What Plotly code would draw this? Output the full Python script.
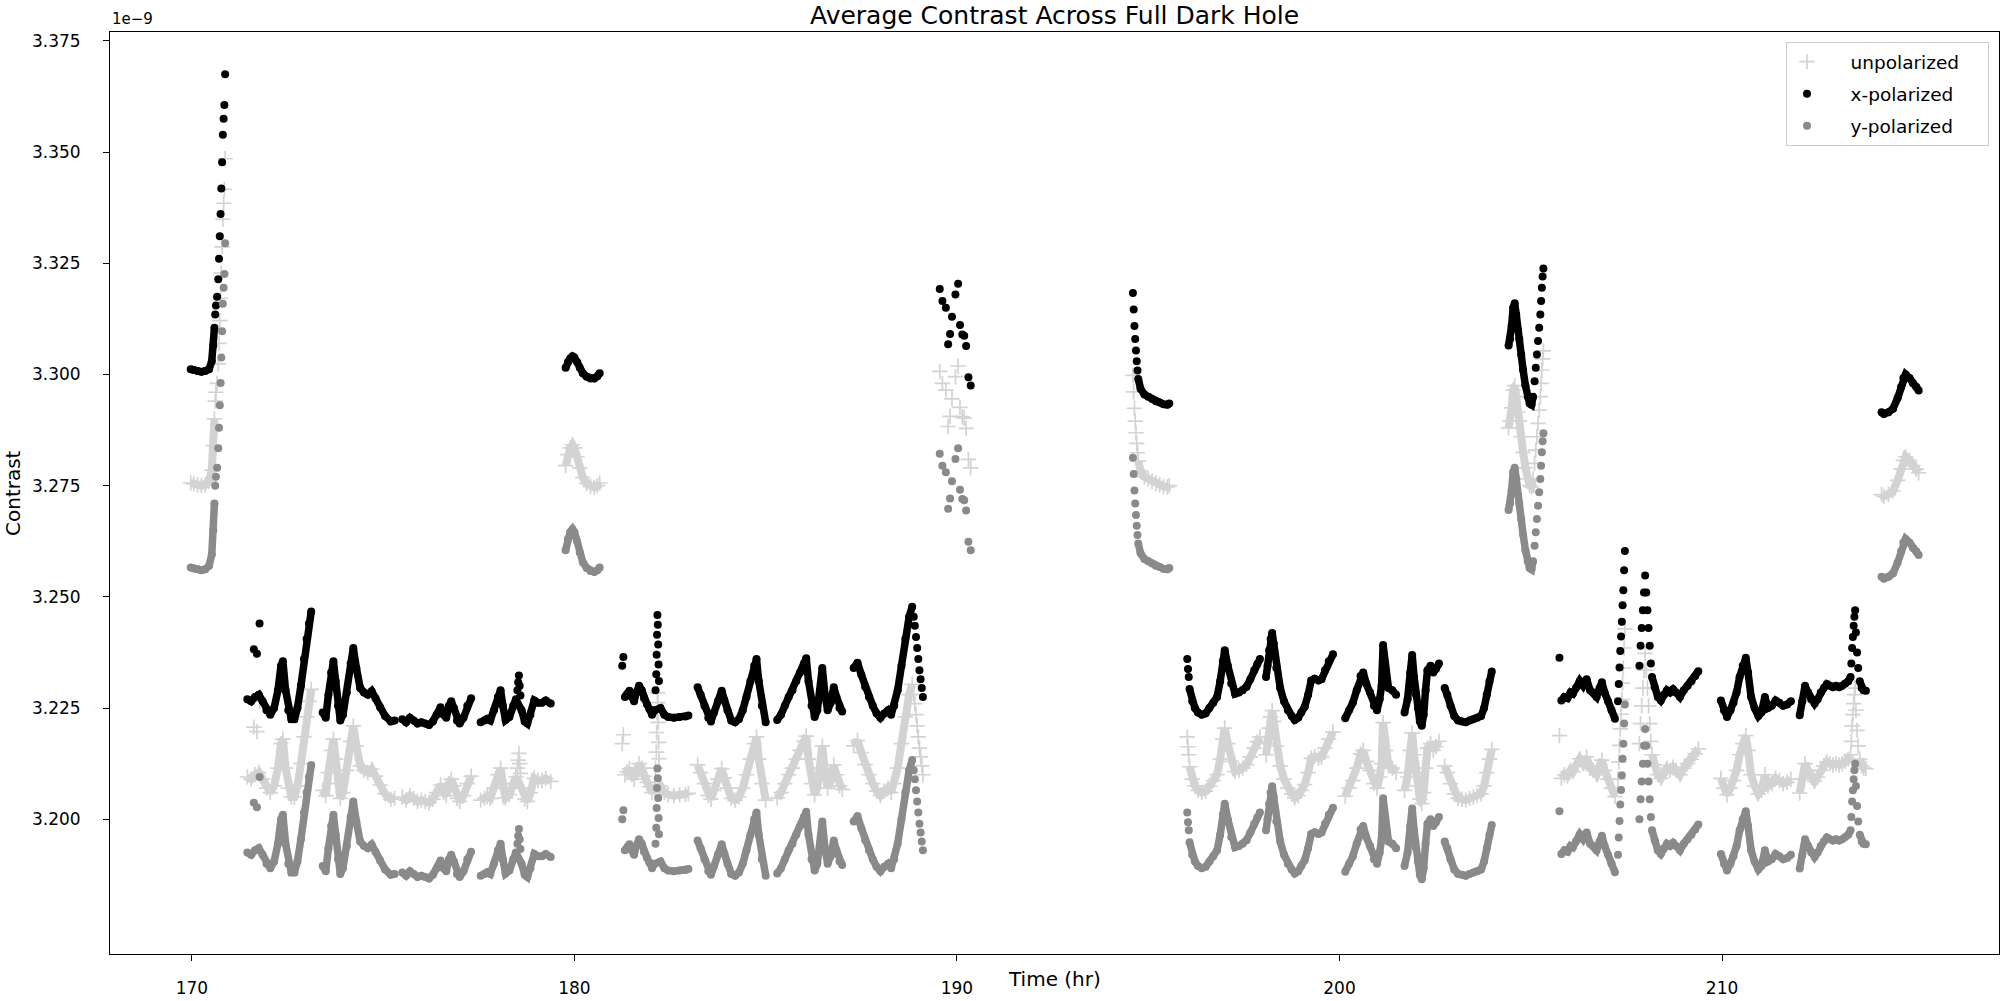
import plotly.graph_objects as go

# contrast values are in units of 1e-9, time in hours
# dense runs of samples (drawn as connected bands)
SEG_T = [
    [169.97, 170.05, 170.15, 170.25, 170.35, 170.45, 170.52, 170.56, 170.59],
    [171.45, 171.55, 171.65, 171.75, 171.85, 171.95, 172.05, 172.15, 172.25, 172.33, 172.38, 172.45, 172.52, 172.6, 172.68, 172.76, 172.85, 172.93, 173.0, 173.06, 173.12],
    [173.42, 173.5, 173.57, 173.64, 173.7, 173.76, 173.82, 173.88, 173.95, 174.05, 174.15, 174.22, 174.3, 174.4, 174.5, 174.6, 174.7, 174.8, 174.92, 175.05, 175.2, 175.3],
    [175.5, 175.6, 175.7, 175.8, 175.9, 176.0, 176.1, 176.2, 176.3, 176.4, 176.5, 176.58, 176.65, 176.72, 176.78, 176.85, 176.93, 177.0, 177.1, 177.2, 177.3],
    [177.55, 177.65, 177.72, 177.8, 177.9, 178.0, 178.07, 178.13, 178.2, 178.3, 178.4, 178.47, 178.62, 178.7, 178.77, 178.85, 178.95, 179.05, 179.15, 179.25, 179.38],
    [179.77, 179.83, 179.89, 179.95, 180.0, 180.07, 180.14, 180.22, 180.32, 180.42, 180.52, 180.6, 180.66],
    [181.32, 181.38, 181.44, 181.5, 181.56, 181.62, 181.69, 181.76, 181.82, 181.9, 181.96, 182.03, 182.1, 182.25, 182.35, 182.45, 182.6, 182.75, 182.9, 182.98],
    [183.22, 183.3, 183.4, 183.5, 183.57, 183.65, 183.75, 183.85, 183.92, 184.0, 184.1, 184.2, 184.3, 184.4, 184.5, 184.6, 184.7, 184.76, 184.82, 184.9, 185.0],
    [185.3, 185.4, 185.5, 185.6, 185.7, 185.8, 185.9, 186.0, 186.06, 186.12, 186.2, 186.28, 186.35, 186.42, 186.48, 186.55, 186.62, 186.7, 186.78, 186.85, 186.93, 187.0],
    [187.3, 187.4, 187.5, 187.6, 187.7, 187.8, 187.9, 188.0, 188.1, 188.2, 188.28, 188.36, 188.45, 188.55, 188.65, 188.75, 188.83],
    [194.74, 194.8, 194.9, 195.0, 195.1, 195.2, 195.3, 195.4, 195.5, 195.55],
    [196.08, 196.15, 196.22, 196.3, 196.4, 196.5, 196.6, 196.7, 196.8, 196.88, 196.95, 197.0, 197.08, 197.17, 197.27, 197.37, 197.47, 197.57, 197.67, 197.77, 197.85, 197.92],
    [198.08, 198.12, 198.16, 198.2, 198.24, 198.28, 198.35, 198.45, 198.55, 198.65, 198.75, 198.83, 198.92, 199.0, 199.09, 199.18, 199.26, 199.35, 199.45, 199.53, 199.62, 199.72, 199.83],
    [200.15, 200.25, 200.35, 200.45, 200.55, 200.62, 200.7, 200.8, 200.9, 200.98, 201.05, 201.1, 201.14, 201.2, 201.28, 201.38, 201.48],
    [201.7, 201.78, 201.85, 201.9, 201.95, 202.0, 202.05, 202.1, 202.15, 202.2, 202.25, 202.3, 202.38, 202.45, 202.52, 202.6],
    [202.75, 202.82, 202.9, 203.0, 203.1, 203.2, 203.3, 203.4, 203.5, 203.6, 203.7, 203.78, 203.85, 203.92, 203.98],
    [204.42, 204.46, 204.5, 204.54, 204.58, 204.62, 204.66, 204.7, 204.75, 204.8, 204.86, 204.92, 204.97, 205.02, 205.06],
    [205.8, 205.88, 205.96, 206.04, 206.1, 206.18, 206.28, 206.37, 206.46, 206.55, 206.63, 206.72, 206.8, 206.86, 206.93, 207.02, 207.11, 207.2],
    [208.17, 208.24, 208.32, 208.4, 208.48, 208.56, 208.64, 208.72, 208.8, 208.9, 209.0, 209.1, 209.2, 209.3, 209.38],
    [209.97, 210.05, 210.13, 210.22, 210.3, 210.38, 210.46, 210.54, 210.62, 210.68, 210.76, 210.85, 210.95, 211.03, 211.12, 211.2, 211.3, 211.4, 211.5, 211.6, 211.7, 211.8],
    [212.03, 212.1, 212.17, 212.25, 212.33, 212.42, 212.5, 212.58, 212.66, 212.74, 212.82, 212.9, 212.98, 213.06, 213.14, 213.22, 213.3, 213.36],
    [213.6, 213.65, 213.7, 213.76],
    [214.17, 214.23, 214.35, 214.47, 214.59, 214.68, 214.74, 214.8, 214.9, 214.99, 215.08, 215.14],
]

SEG_X = [
    [3.3012, 3.3010, 3.3008, 3.3006, 3.3008, 3.3012, 3.3030, 3.3065, 3.3105],
    [3.2270, 3.2265, 3.2275, 3.2280, 3.2265, 3.2245, 3.2235, 3.2250, 3.2290, 3.2345, 3.2355, 3.2290, 3.2245, 3.2225, 3.2225, 3.2250, 3.2300, 3.2360, 3.2405, 3.2440, 3.2467],
    [3.2240, 3.2228, 3.2280, 3.2330, 3.2355, 3.2310, 3.2255, 3.2222, 3.2235, 3.2285, 3.2350, 3.2385, 3.2340, 3.2295, 3.2285, 3.2280, 3.2288, 3.2272, 3.2252, 3.2232, 3.2220, 3.2222],
    [3.2225, 3.2218, 3.2228, 3.2222, 3.2215, 3.2218, 3.2215, 3.2212, 3.2220, 3.2235, 3.2252, 3.2235, 3.2228, 3.2255, 3.2265, 3.2250, 3.2222, 3.2215, 3.2228, 3.2255, 3.2272],
    [3.2218, 3.2222, 3.2226, 3.2222, 3.2245, 3.2275, 3.2290, 3.2255, 3.2223, 3.2230, 3.2255, 3.2270, 3.2245, 3.2220, 3.2215, 3.2235, 3.2267, 3.2262, 3.2262, 3.2267, 3.2260],
    [3.3015, 3.3028, 3.3036, 3.3041, 3.3038, 3.3028, 3.3015, 3.3003, 3.2995, 3.2991, 3.2991, 3.2996, 3.3003],
    [3.2275, 3.2282, 3.2289, 3.2275, 3.2265, 3.2285, 3.2300, 3.2290, 3.2272, 3.2258, 3.2248, 3.2235, 3.2245, 3.2250, 3.2235, 3.2230, 3.2228, 3.2230, 3.2231, 3.2233],
    [3.2297, 3.2280, 3.2255, 3.2228, 3.2220, 3.2240, 3.2265, 3.2289, 3.2268, 3.2245, 3.2222, 3.2218, 3.2225, 3.2245, 3.2275, 3.2310, 3.2345, 3.2360, 3.2310, 3.2255, 3.2218],
    [3.2223, 3.2235, 3.2255, 3.2275, 3.2290, 3.2310, 3.2330, 3.2350, 3.2362, 3.2310, 3.2255, 3.2230, 3.2245, 3.2290, 3.2340, 3.2280, 3.2245, 3.2262, 3.2297, 3.2275, 3.2250, 3.2242],
    [3.2340, 3.2352, 3.2325, 3.2298, 3.2275, 3.2255, 3.2238, 3.2228, 3.2238, 3.2245, 3.2235, 3.2255, 3.2290, 3.2345, 3.2405, 3.2455, 3.2478],
    [3.2990, 3.2968, 3.2955, 3.2950, 3.2945, 3.2940, 3.2937, 3.2933, 3.2932, 3.2935],
    [3.2293, 3.2265, 3.2250, 3.2240, 3.2235, 3.2238, 3.2250, 3.2262, 3.2275, 3.2310, 3.2355, 3.2380, 3.2345, 3.2305, 3.2282, 3.2285, 3.2290, 3.2298, 3.2315, 3.2335, 3.2349, 3.2360],
    [3.2320, 3.2345, 3.2380, 3.2405, 3.2419, 3.2395, 3.2340, 3.2295, 3.2265, 3.2245, 3.2232, 3.2223, 3.2228, 3.2240, 3.2253, 3.2280, 3.2312, 3.2316, 3.2312, 3.2315, 3.2335, 3.2355, 3.2371],
    [3.2227, 3.2245, 3.2262, 3.2290, 3.2322, 3.2330, 3.2305, 3.2285, 3.2255, 3.2245, 3.2270, 3.2300, 3.2392, 3.2330, 3.2295, 3.2290, 3.2280],
    [3.2240, 3.2270, 3.2330, 3.2369, 3.2320, 3.2280, 3.2250, 3.2220, 3.2210, 3.2235, 3.2290, 3.2335, 3.2345, 3.2330, 3.2338, 3.2350],
    [3.2295, 3.2280, 3.2255, 3.2232, 3.2222, 3.2220, 3.2218, 3.2222, 3.2225, 3.2228, 3.2232, 3.2250, 3.2280, 3.2310, 3.2332],
    [3.3065, 3.3080, 3.3110, 3.3150, 3.3160, 3.3135, 3.3100, 3.3080, 3.3045, 3.3010, 3.2975, 3.2950, 3.2935, 3.2932, 3.2950],
    [3.2267, 3.2275, 3.2272, 3.2285, 3.2282, 3.2295, 3.2311, 3.2300, 3.2315, 3.2290, 3.2285, 3.2275, 3.2295, 3.2308, 3.2285, 3.2265, 3.2245, 3.2226],
    [3.2320, 3.2297, 3.2275, 3.2267, 3.2280, 3.2290, 3.2285, 3.2292, 3.2285, 3.2275, 3.2290, 3.2300, 3.2310, 3.2322, 3.2333],
    [3.2267, 3.2245, 3.2230, 3.2245, 3.2262, 3.2285, 3.2320, 3.2345, 3.2363, 3.2330, 3.2275, 3.2250, 3.2232, 3.2240, 3.2275, 3.2250, 3.2255, 3.2267, 3.2262, 3.2255, 3.2258, 3.2265],
    [3.2234, 3.2265, 3.2300, 3.2285, 3.2270, 3.2260, 3.2270, 3.2285, 3.2295, 3.2304, 3.2300, 3.2297, 3.2300, 3.2297, 3.2300, 3.2305, 3.2310, 3.2320],
    [3.2310, 3.2295, 3.2290, 3.2289],
    [3.2915, 3.2911, 3.2915, 3.2923, 3.2947, 3.2972, 3.2992, 3.3000, 3.2992, 3.2980, 3.2972, 3.2964],
]

SEG_U = [
    [3.2756, 3.2754, 3.2752, 3.2750, 3.2752, 3.2760, 3.2785, 3.2840, 3.2900],
    [3.2095, 3.2090, 3.2100, 3.2105, 3.2090, 3.2070, 3.2060, 3.2075, 3.2115, 3.2170, 3.2180, 3.2115, 3.2070, 3.2050, 3.2050, 3.2075, 3.2125, 3.2185, 3.2230, 3.2265, 3.2292],
    [3.2065, 3.2053, 3.2105, 3.2155, 3.2180, 3.2135, 3.2080, 3.2047, 3.2060, 3.2110, 3.2175, 3.2210, 3.2165, 3.2120, 3.2110, 3.2105, 3.2113, 3.2097, 3.2077, 3.2057, 3.2045, 3.2047],
    [3.2050, 3.2043, 3.2053, 3.2047, 3.2040, 3.2043, 3.2040, 3.2037, 3.2045, 3.2060, 3.2077, 3.2060, 3.2053, 3.2080, 3.2090, 3.2075, 3.2047, 3.2040, 3.2053, 3.2080, 3.2097],
    [3.2043, 3.2047, 3.2051, 3.2047, 3.2070, 3.2100, 3.2115, 3.2080, 3.2048, 3.2055, 3.2080, 3.2095, 3.2070, 3.2045, 3.2040, 3.2060, 3.2092, 3.2087, 3.2087, 3.2092, 3.2085],
    [3.2795, 3.2820, 3.2835, 3.2842, 3.2835, 3.2815, 3.2790, 3.2768, 3.2755, 3.2748, 3.2746, 3.2750, 3.2756],
    [3.2100, 3.2107, 3.2114, 3.2100, 3.2090, 3.2110, 3.2125, 3.2115, 3.2097, 3.2083, 3.2073, 3.2060, 3.2070, 3.2075, 3.2060, 3.2055, 3.2053, 3.2055, 3.2056, 3.2058],
    [3.2122, 3.2105, 3.2080, 3.2053, 3.2045, 3.2065, 3.2090, 3.2114, 3.2093, 3.2070, 3.2047, 3.2043, 3.2050, 3.2070, 3.2100, 3.2135, 3.2170, 3.2185, 3.2135, 3.2080, 3.2043],
    [3.2048, 3.2060, 3.2080, 3.2100, 3.2115, 3.2135, 3.2155, 3.2175, 3.2187, 3.2135, 3.2080, 3.2055, 3.2070, 3.2115, 3.2165, 3.2105, 3.2070, 3.2087, 3.2122, 3.2100, 3.2075, 3.2067],
    [3.2165, 3.2177, 3.2150, 3.2123, 3.2100, 3.2080, 3.2063, 3.2053, 3.2063, 3.2070, 3.2060, 3.2080, 3.2115, 3.2170, 3.2230, 3.2280, 3.2303],
    [3.2805, 3.2783, 3.2770, 3.2765, 3.2760, 3.2755, 3.2752, 3.2748, 3.2747, 3.2750],
    [3.2118, 3.2090, 3.2075, 3.2065, 3.2060, 3.2063, 3.2075, 3.2087, 3.2100, 3.2135, 3.2180, 3.2205, 3.2170, 3.2130, 3.2107, 3.2110, 3.2115, 3.2123, 3.2140, 3.2160, 3.2174, 3.2185],
    [3.2145, 3.2170, 3.2205, 3.2230, 3.2244, 3.2220, 3.2165, 3.2120, 3.2090, 3.2070, 3.2057, 3.2048, 3.2053, 3.2065, 3.2078, 3.2105, 3.2137, 3.2141, 3.2137, 3.2140, 3.2160, 3.2180, 3.2196],
    [3.2052, 3.2070, 3.2087, 3.2115, 3.2147, 3.2155, 3.2130, 3.2110, 3.2080, 3.2070, 3.2095, 3.2125, 3.2217, 3.2155, 3.2120, 3.2115, 3.2105],
    [3.2065, 3.2095, 3.2155, 3.2194, 3.2145, 3.2105, 3.2075, 3.2045, 3.2035, 3.2060, 3.2115, 3.2160, 3.2170, 3.2155, 3.2163, 3.2175],
    [3.2120, 3.2105, 3.2080, 3.2057, 3.2047, 3.2045, 3.2043, 3.2047, 3.2050, 3.2053, 3.2057, 3.2075, 3.2105, 3.2135, 3.2157],
    [3.2880, 3.2895, 3.2925, 3.2965, 3.2975, 3.2950, 3.2915, 3.2895, 3.2860, 3.2825, 3.2790, 3.2765, 3.2750, 3.2747, 3.2765],
    [3.2092, 3.2100, 3.2097, 3.2110, 3.2107, 3.2120, 3.2136, 3.2125, 3.2140, 3.2115, 3.2110, 3.2100, 3.2120, 3.2133, 3.2110, 3.2090, 3.2070, 3.2051],
    [3.2145, 3.2122, 3.2100, 3.2092, 3.2105, 3.2115, 3.2110, 3.2117, 3.2110, 3.2100, 3.2115, 3.2125, 3.2135, 3.2147, 3.2158],
    [3.2092, 3.2070, 3.2055, 3.2070, 3.2087, 3.2110, 3.2145, 3.2170, 3.2188, 3.2155, 3.2100, 3.2075, 3.2057, 3.2065, 3.2100, 3.2075, 3.2080, 3.2092, 3.2087, 3.2080, 3.2083, 3.2090],
    [3.2059, 3.2090, 3.2125, 3.2110, 3.2095, 3.2085, 3.2095, 3.2110, 3.2120, 3.2129, 3.2125, 3.2122, 3.2125, 3.2122, 3.2125, 3.2130, 3.2135, 3.2145],
    [3.2135, 3.2120, 3.2115, 3.2114],
    [3.2730, 3.2726, 3.2730, 3.2738, 3.2762, 3.2787, 3.2807, 3.2815, 3.2807, 3.2795, 3.2787, 3.2779],
]

SEG_Y = [
    [3.2566, 3.2564, 3.2562, 3.2560, 3.2562, 3.2570, 3.2595, 3.2650, 3.2710],
    [3.1925, 3.1920, 3.1930, 3.1935, 3.1920, 3.1900, 3.1890, 3.1905, 3.1945, 3.2000, 3.2010, 3.1945, 3.1900, 3.1880, 3.1880, 3.1905, 3.1955, 3.2015, 3.2060, 3.2095, 3.2122],
    [3.1895, 3.1883, 3.1935, 3.1985, 3.2010, 3.1965, 3.1910, 3.1877, 3.1890, 3.1940, 3.2005, 3.2040, 3.1995, 3.1950, 3.1940, 3.1935, 3.1943, 3.1927, 3.1907, 3.1887, 3.1875, 3.1877],
    [3.1880, 3.1873, 3.1883, 3.1877, 3.1870, 3.1873, 3.1870, 3.1867, 3.1875, 3.1890, 3.1907, 3.1890, 3.1883, 3.1910, 3.1920, 3.1905, 3.1877, 3.1870, 3.1883, 3.1910, 3.1927],
    [3.1873, 3.1877, 3.1881, 3.1877, 3.1900, 3.1930, 3.1945, 3.1910, 3.1878, 3.1885, 3.1910, 3.1925, 3.1900, 3.1875, 3.1870, 3.1890, 3.1922, 3.1917, 3.1917, 3.1922, 3.1915],
    [3.2605, 3.2630, 3.2645, 3.2652, 3.2645, 3.2625, 3.2600, 3.2578, 3.2565, 3.2558, 3.2556, 3.2560, 3.2566],
    [3.1930, 3.1937, 3.1944, 3.1930, 3.1920, 3.1940, 3.1955, 3.1945, 3.1927, 3.1913, 3.1903, 3.1890, 3.1900, 3.1905, 3.1890, 3.1885, 3.1883, 3.1885, 3.1886, 3.1888],
    [3.1952, 3.1935, 3.1910, 3.1883, 3.1875, 3.1895, 3.1920, 3.1944, 3.1923, 3.1900, 3.1877, 3.1873, 3.1880, 3.1900, 3.1930, 3.1965, 3.2000, 3.2015, 3.1965, 3.1910, 3.1873],
    [3.1878, 3.1890, 3.1910, 3.1930, 3.1945, 3.1965, 3.1985, 3.2005, 3.2017, 3.1965, 3.1910, 3.1885, 3.1900, 3.1945, 3.1995, 3.1935, 3.1900, 3.1917, 3.1952, 3.1930, 3.1905, 3.1897],
    [3.1995, 3.2007, 3.1980, 3.1953, 3.1930, 3.1910, 3.1893, 3.1883, 3.1893, 3.1900, 3.1890, 3.1910, 3.1945, 3.2000, 3.2060, 3.2110, 3.2133],
    [3.2620, 3.2598, 3.2585, 3.2580, 3.2575, 3.2570, 3.2567, 3.2563, 3.2562, 3.2565],
    [3.1948, 3.1920, 3.1905, 3.1895, 3.1890, 3.1893, 3.1905, 3.1917, 3.1930, 3.1965, 3.2010, 3.2035, 3.2000, 3.1960, 3.1937, 3.1940, 3.1945, 3.1953, 3.1970, 3.1990, 3.2004, 3.2015],
    [3.1975, 3.2000, 3.2035, 3.2060, 3.2074, 3.2050, 3.1995, 3.1950, 3.1920, 3.1900, 3.1887, 3.1878, 3.1883, 3.1895, 3.1908, 3.1935, 3.1967, 3.1971, 3.1967, 3.1970, 3.1990, 3.2010, 3.2026],
    [3.1882, 3.1900, 3.1917, 3.1945, 3.1977, 3.1985, 3.1960, 3.1940, 3.1910, 3.1900, 3.1925, 3.1955, 3.2047, 3.1985, 3.1950, 3.1945, 3.1935],
    [3.1895, 3.1925, 3.1985, 3.2024, 3.1975, 3.1935, 3.1905, 3.1875, 3.1865, 3.1890, 3.1945, 3.1990, 3.2000, 3.1985, 3.1993, 3.2005],
    [3.1950, 3.1935, 3.1910, 3.1887, 3.1877, 3.1875, 3.1873, 3.1877, 3.1880, 3.1883, 3.1887, 3.1905, 3.1935, 3.1965, 3.1987],
    [3.2695, 3.2710, 3.2740, 3.2780, 3.2790, 3.2765, 3.2730, 3.2710, 3.2675, 3.2640, 3.2605, 3.2580, 3.2565, 3.2562, 3.2580],
    [3.1922, 3.1930, 3.1927, 3.1940, 3.1937, 3.1950, 3.1966, 3.1955, 3.1970, 3.1945, 3.1940, 3.1930, 3.1950, 3.1963, 3.1940, 3.1920, 3.1900, 3.1881],
    [3.1975, 3.1952, 3.1930, 3.1922, 3.1935, 3.1945, 3.1940, 3.1947, 3.1940, 3.1930, 3.1945, 3.1955, 3.1965, 3.1977, 3.1988],
    [3.1922, 3.1900, 3.1885, 3.1900, 3.1917, 3.1940, 3.1975, 3.2000, 3.2018, 3.1985, 3.1930, 3.1905, 3.1887, 3.1895, 3.1930, 3.1905, 3.1910, 3.1922, 3.1917, 3.1910, 3.1913, 3.1920],
    [3.1889, 3.1920, 3.1955, 3.1940, 3.1925, 3.1915, 3.1925, 3.1940, 3.1950, 3.1959, 3.1955, 3.1952, 3.1955, 3.1952, 3.1955, 3.1960, 3.1965, 3.1975],
    [3.1965, 3.1950, 3.1945, 3.1944],
    [3.2545, 3.2541, 3.2545, 3.2553, 3.2577, 3.2602, 3.2622, 3.2630, 3.2622, 3.2610, 3.2602, 3.2594],
]

# isolated samples on steep spikes (drawn as separate markers)
DOT_T = [
    [170.61, 170.63, 170.66, 170.69, 170.71, 170.73, 170.75, 170.77, 170.79, 170.81, 170.83, 170.85, 170.87],
    [171.62, 171.70, 171.77],
    [178.51, 178.53, 178.55, 178.57, 178.59],
    [181.25, 181.28],
    [182.12, 182.14, 182.15, 182.16, 182.17, 182.18, 182.19, 182.2, 182.21],
    [188.87, 188.9, 188.93, 188.96, 188.99, 189.02, 189.05, 189.08, 189.11],
    [189.55, 189.62, 189.71, 189.77, 189.82, 189.87, 189.96, 190.03, 190.08, 190.14, 190.19, 190.24, 190.30, 190.36],
    [194.6, 194.62, 194.64, 194.66, 194.68, 194.7, 194.72],
    [196.02, 196.04, 196.06],
    [205.1, 205.13, 205.16, 205.19, 205.22, 205.25, 205.27, 205.29, 205.31, 205.33],
    [205.75],
    [207.28, 207.3, 207.32, 207.34, 207.36, 207.38, 207.4, 207.42, 207.44, 207.46],
    [207.84, 207.87, 207.9, 207.93, 207.96, 207.99, 208.02, 208.05, 208.08, 208.11, 208.14],
    [213.38, 213.4, 213.42, 213.44, 213.46, 213.48, 213.5, 213.53, 213.56],
]

DOT_X = [
    [3.3135, 3.3155, 3.3175, 3.3214, 3.3260, 3.3311, 3.3361, 3.3418, 3.3477, 3.3539, 3.3575, 3.3606, 3.3675],
    [3.2382, 3.2372, 3.2440],
    [3.2290, 3.2308, 3.2323, 3.2300, 3.2278],
    [3.2345, 3.2365],
    [3.2290, 3.2326, 3.2370, 3.2415, 3.2459, 3.2437, 3.2393, 3.2348, 3.2311],
    [3.2455, 3.2435, 3.2410, 3.2385, 3.2360, 3.2335, 3.2315, 3.2295, 3.2275],
    [3.3192, 3.3165, 3.3150, 3.3068, 3.3091, 3.3130, 3.3180, 3.3204, 3.3111, 3.3090, 3.3087, 3.3064, 3.2994, 3.2975],
    [3.3183, 3.3146, 3.3109, 3.3080, 3.3054, 3.3030, 3.3009],
    [3.2360, 3.2338, 3.2320],
    [3.2985, 3.3015, 3.3045, 3.3075, 3.3105, 3.3135, 3.3165, 3.3195, 3.3220, 3.3238],
    [3.2363],
    [3.2265, 3.2304, 3.2341, 3.2378, 3.2411, 3.2444, 3.2481, 3.2515, 3.2560, 3.2603],
    [3.2345, 3.2390, 3.2430, 3.2470, 3.2510, 3.2548, 3.2510, 3.2470, 3.2430, 3.2390, 3.2350],
    [3.2350, 3.2385, 3.2410, 3.2435, 3.2455, 3.2470, 3.2420, 3.2375, 3.2340],
]

DOT_U = [
    [3.2940, 3.2960, 3.2980, 3.3024, 3.3070, 3.3121, 3.3171, 3.3228, 3.3287, 3.3349, 3.3385, 3.3416, 3.3485],
    [3.2207, 3.2197, 3.2265],
    [3.2115, 3.2133, 3.2148, 3.2125, 3.2103],
    [3.2170, 3.2190],
    [3.2115, 3.2151, 3.2195, 3.2240, 3.2284, 3.2262, 3.2218, 3.2173, 3.2136],
    [3.2280, 3.2260, 3.2235, 3.2210, 3.2185, 3.2160, 3.2140, 3.2120, 3.2100],
    [3.3007, 3.2980, 3.2965, 3.2883, 3.2906, 3.2945, 3.2995, 3.3019, 3.2926, 3.2905, 3.2902, 3.2879, 3.2809, 3.2790],
    [3.2998, 3.2961, 3.2924, 3.2895, 3.2869, 3.2845, 3.2824],
    [3.2185, 3.2163, 3.2145],
    [3.2800, 3.2830, 3.2860, 3.2890, 3.2920, 3.2950, 3.2980, 3.3010, 3.3035, 3.3053],
    [3.2188],
    [3.2090, 3.2129, 3.2166, 3.2203, 3.2236, 3.2269, 3.2306, 3.2340, 3.2385, 3.2428],
    [3.2170, 3.2215, 3.2255, 3.2295, 3.2335, 3.2373, 3.2335, 3.2295, 3.2255, 3.2215, 3.2175],
    [3.2175, 3.2210, 3.2235, 3.2260, 3.2280, 3.2295, 3.2245, 3.2200, 3.2165],
]

DOT_Y = [
    [3.2750, 3.2770, 3.2790, 3.2834, 3.2880, 3.2931, 3.2981, 3.3038, 3.3097, 3.3159, 3.3195, 3.3226, 3.3295],
    [3.2037, 3.2027, 3.2095],
    [3.1945, 3.1963, 3.1978, 3.1955, 3.1933],
    [3.2000, 3.2020],
    [3.1945, 3.1981, 3.2025, 3.2070, 3.2114, 3.2092, 3.2048, 3.2003, 3.1966],
    [3.2110, 3.2090, 3.2065, 3.2040, 3.2015, 3.1990, 3.1970, 3.1950, 3.1930],
    [3.2822, 3.2795, 3.2780, 3.2698, 3.2721, 3.2760, 3.2810, 3.2834, 3.2741, 3.2720, 3.2717, 3.2694, 3.2624, 3.2605],
    [3.2813, 3.2776, 3.2739, 3.2710, 3.2684, 3.2660, 3.2639],
    [3.2015, 3.1993, 3.1975],
    [3.2615, 3.2645, 3.2675, 3.2705, 3.2735, 3.2765, 3.2795, 3.2825, 3.2850, 3.2868],
    [3.2018],
    [3.1920, 3.1959, 3.1996, 3.2033, 3.2066, 3.2099, 3.2136, 3.2170, 3.2215, 3.2258],
    [3.2000, 3.2045, 3.2085, 3.2125, 3.2165, 3.2203, 3.2165, 3.2125, 3.2085, 3.2045, 3.2005],
    [3.2005, 3.2040, 3.2065, 3.2090, 3.2110, 3.2125, 3.2075, 3.2030, 3.1995],
]

Y_TICKS = [3.200, 3.225, 3.250, 3.275, 3.300, 3.325, 3.350, 3.375]
X_TICKS = [170, 180, 190, 200, 210]

LIGHT = "#d3d3d3"
GRAY = "#8a8a8a"
BLACK = "#000000"
PAD = "\u00a0" * 4


def runs(ts, vs, gaps=True):
    xs, ys = [], []
    for t, v in zip(ts, vs):
        n = min(len(t), len(v))
        xs += list(t[:n])
        ys += list(v[:n])
        if gaps:
            xs.append(None)
            ys.append(None)
    return xs, ys


series = [
    ("unpolarized", SEG_U, DOT_U, LIGHT, "cross-thin"),
    ("x-polarized", SEG_X, DOT_X, BLACK, "circle"),
    ("y-polarized", SEG_Y, DOT_Y, GRAY, "circle"),
]

fig = go.Figure()
for name, seg_vals, dot_vals, color, symbol in series:
    if symbol == "cross-thin":
        mk = dict(symbol=symbol, size=11, color=color, line=dict(width=1.7, color=color))
        lw = 8
    else:
        mk = dict(symbol=symbol, size=8, color=color, line=dict(width=0))
        lw = 7.5
    sx, sy = runs(SEG_T, seg_vals)
    fig.add_trace(go.Scatter(x=sx, y=sy, mode="lines+markers", connectgaps=False,
                             line=dict(color=color, width=lw), marker=mk,
                             showlegend=False, hoverinfo="skip", legendgroup=name))
    dx, dy = runs(DOT_T, dot_vals, gaps=False)
    fig.add_trace(go.Scatter(x=dx, y=dy, mode="markers", marker=mk, name=PAD + name + PAD,
                             legendgroup=name))

axis_style = dict(showline=True, linecolor="black", linewidth=1, mirror=True,
                  ticks="outside", ticklen=6, tickcolor="black", showgrid=False,
                  zeroline=False, tickfont=dict(size=17))

fig.update_layout(
    width=2003, height=1001,
    margin=dict(l=110, r=3, t=32, b=35),
    plot_bgcolor="white", paper_bgcolor="white",
    font=dict(family="DejaVu Sans", size=17, color="black"),
    xaxis=dict(range=[167.86, 217.24], tickvals=X_TICKS, ticklabelstandoff=13, **axis_style),
    yaxis=dict(range=[3.1697, 3.3770], tickvals=Y_TICKS, ticklabelstandoff=19,
               ticktext=["%.3f" % v for v in Y_TICKS], **axis_style),
    legend=dict(x=0.9947, y=0.989, xanchor="right", yanchor="top",
                bgcolor="rgba(255,255,255,0.8)", bordercolor="#cccccc", borderwidth=1,
                font=dict(size=18.5), traceorder="grouped", tracegroupgap=5,
                itemwidth=30),
    annotations=[
        dict(text="Average Contrast Across Full Dark Hole", x=0.5, y=1, xref="paper", yref="paper",
             xanchor="center", yanchor="bottom", yshift=0, showarrow=False, font=dict(size=25)),
        dict(text="1e\u22129", x=0, y=1, xref="paper", yref="paper", xanchor="left",
             yanchor="bottom", yshift=2, showarrow=False, font=dict(size=15)),
        dict(text="Time (hr)", x=0.5, y=0, xref="paper", yref="paper", xanchor="center",
             yanchor="top", yshift=-11, showarrow=False, font=dict(size=20)),
        dict(text="Contrast", x=0, y=0.5, xref="paper", yref="paper", xanchor="center",
             yanchor="middle", xshift=-97, textangle=-90, showarrow=False, font=dict(size=20)),
    ],
)

fig.write_html("out.html", config={"displayModeBar": False},
               post_script="document.body.style.margin='0px';document.body.style.overflow='hidden';")
